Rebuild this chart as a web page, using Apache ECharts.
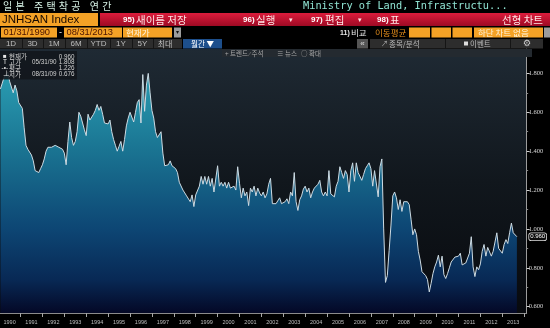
<!DOCTYPE html>
<html><head><meta charset="utf-8">
<script src="https://cdn.jsdelivr.net/npm/echarts@6.0.0/dist/echarts.min.js"></script>
<style>html,body{margin:0;padding:0;background:#000;overflow:hidden}#c{width:550px;height:328px}</style>
</head><body><div id="c"></div>
<script>
// ---- data (monthly, Jan 1990 .. Aug 2013), millions of units, annualized ----
const firstYear = 1990;
const starts = [
 1.72,1.75,1.78,1.79,1.808,1.76,1.76,1.70,1.74,1.71,1.65,1.64,   // 1990
 1.62,1.52,1.43,1.41,1.41,1.38,1.35,1.30,1.29,1.29,1.31,1.33,    // 1991
 1.36,1.40,1.42,1.41,1.42,1.41,1.43,1.44,1.42,1.42,1.41,1.39,    // 1992
 1.33,1.45,1.55,1.47,1.43,1.45,1.50,1.60,1.58,1.545,1.51,1.48,   // 1993
 1.59,1.56,1.56,1.59,1.61,1.64,1.61,1.63,1.59,1.545,1.55,1.54,   // 1994
 1.56,1.50,1.46,1.43,1.40,1.425,1.45,1.40,1.46,1.53,1.57,1.60,   // 1995
 1.59,1.55,1.60,1.65,1.665,1.545,1.794,1.605,1.74,1.80,1.70,1.61,// 1996
 1.57,1.50,1.47,1.47,1.50,1.39,1.325,1.32,1.33,1.35,1.325,1.32,  // 1997
 1.31,1.29,1.24,1.23,1.20,1.185,1.17,1.16,1.14,1.175,1.115,1.175,// 1998
 1.185,1.22,1.27,1.23,1.27,1.23,1.27,1.22,1.26,1.19,1.20,1.325,  // 1999
 1.22,1.24,1.22,1.24,1.21,1.24,1.21,1.21,1.22,1.20,1.32,1.235,   // 2000
 1.16,1.21,1.17,1.19,1.12,1.21,1.19,1.22,1.17,1.21,1.185,1.17,   // 2001
 1.19,1.16,1.18,1.23,1.26,1.13,1.12,1.13,1.13,1.16,1.13,1.12,    // 2002
 1.14,1.155,1.13,1.19,1.17,1.29,1.14,1.095,1.15,1.17,1.205,1.22, // 2003
 1.19,1.21,1.16,1.19,1.21,1.20,1.23,1.25,1.19,1.17,1.19,1.17,    // 2004
 1.30,1.18,1.175,1.165,1.22,1.245,1.32,1.29,1.26,1.30,1.28,1.19, // 2005
 1.30,1.34,1.245,1.34,1.29,1.30,1.25,1.28,1.31,1.325,1.34,1.31,  // 2006
 1.22,1.30,1.30,1.165,1.32,1.36,1.00,0.725,0.76,0.89,1.02,1.17,  // 2007
 1.19,1.16,1.10,1.15,1.09,1.14,1.145,1.14,1.125,1.05,0.97,1.00,  // 2008
 0.97,0.885,0.84,0.78,0.77,0.76,0.74,0.676,0.72,0.77,0.805,0.83, // 2009
 0.865,0.805,0.86,0.765,0.745,0.77,0.80,0.83,0.84,0.855,0.865,0.86, // 2010
 0.875,0.815,0.805,0.825,0.825,0.875,0.96,0.805,0.755,0.805,0.79,0.82, // 2011
 0.885,0.92,0.86,0.905,0.90,0.86,0.885,0.89,0.98,0.90,0.89,0.875, // 2012
 0.92,0.945,0.925,0.98,1.03,0.98,0.98,0.96                         // 2013 (Jan-Aug)
];
const yearLabels = ['1990','1991','1992','1993','1994','1995','1996','1997','1998','1999','2000','2001','2002','2003','2004','2005','2006','2007','2008','2009','2010','2011','2012','2013'];
const yTickValues = [0.6,0.8,1.0,1.2,1.4,1.6,1.8];
const yMinorValues = [0.7,0.9,1.1,1.3,1.5,1.7,1.9];
// legend statistics as printed
const statNames = ['현재가','고가','평균','저가'];
const statDates = ['','05/31/90','','08/31/09'];
const statValues = ['0.960','1.808','1.226','0.676'];
const currentValue = 0.960;

// axis ranges (visible window)
const X_MIN = 1990.063, X_MAX = 2014.114;
const Y_MIN = 0.5676, Y_MAX = 1.9255;

const seriesData = starts.map((v, i) => [firstYear + (i + 1) / 12, v]);
const yearBounds = yearLabels.slice(1).map(y => +y).concat([2014]);
const yearMids = yearLabels.map(y => +y + 0.5);

// ---- header / toolbar graphics ----
const G = [];
const KR = '"Noto Sans CJK KR"';
const SANS = '"Liberation Sans","Noto Sans CJK KR"';
function rect(x, y, w, h, fill, z) { G.push({type:'rect', shape:{x, y, width:w, height:h}, style:{fill}, z: z || 50, silent:true}); }
function text(x, y, t, color, size, o) {
  o = o || {};
  G.push({type:'text', x, y, z: o.z || 60, silent:true,
    style:{text:t, fill:color, font:(o.bold ? 'bold ' : '') + size + 'px ' + (o.font || SANS),
      textAlign:o.align || 'left', align:o.align || 'left', textVerticalAlign:'middle', verticalAlign:'middle'}});
}
// row 1: title
const title = '일본 주택착공 연간';
let cell = 0;
for (const ch of title) {
  if (ch === ' ') { cell += 1; continue; }
  text(3 + cell * 6.2, 6, ch, '#d6f0e4', 10, {font: KR});
  cell += 2;
}
text(303, 6, 'Ministry of Land, Infrastructu...', '#8fe3d2', 10.3, {font:'"DejaVu Sans Mono",monospace'});
// row 2
rect(0, 13, 98, 13, '#f4a226');
text(2, 19.6, 'JNHSAN Index', '#1a0a00', 11.5);
G.push({type:'rect', shape:{x:100, y:13, width:450, height:13}, silent:true, z:50,
  style:{fill:new echarts.graphic.LinearGradient(0,0,0,1,[{offset:0,color:'#dc1c3c'},{offset:1,color:'#9e0a24'}])}});
text(123, 19.6, '95)', '#ffffff', 8, {bold:true}); text(136, 19.6, '새이름 저장', '#ffe6e6', 10.5, {font:KR});
text(243, 19.6, '96)', '#ffffff', 8, {bold:true}); text(256, 19.6, '실행', '#ffe6e6', 10.5, {font:KR}); text(289, 19.8, '▾', '#ffe6e6', 7);
text(311, 19.6, '97)', '#ffffff', 8, {bold:true}); text(325, 19.6, '편집', '#ffe6e6', 10.5, {font:KR}); text(358, 19.8, '▾', '#ffe6e6', 7);
text(377, 19.6, '98)', '#ffffff', 8, {bold:true}); text(390, 19.6, '표', '#ffe6e6', 10.5, {font:KR});
text(543, 19.6, '선형 차트', '#ffe6e6', 10.5, {font:KR, align:'right'});
// row 3
rect(1, 27.5, 56, 10, '#f4a226'); text(3.5, 32.6, '01/31/1990', '#4a1200', 9.3);
text(59, 32.4, '-', '#ffffff', 9);
rect(64, 27.5, 58, 10, '#f4a226'); text(66.5, 32.6, '08/31/2013', '#4a1200', 9.3);
rect(123, 27.5, 49, 10, '#f4a226'); text(126, 32.6, '현재가', '#fff4dc', 8.5, {font:KR});
rect(174, 27.5, 7, 10, '#9c9c9c'); text(177.5, 32.6, '▾', '#111', 6, {align:'center'});
text(340, 32.6, '11)', '#e6e6e6', 7, {bold:true}); text(351, 32.6, '비교', '#e6e6e6', 8.5, {font:KR});
text(375, 32.6, '이동평균', '#e8901c', 8.5, {font:KR});
rect(409, 27.5, 21, 10, '#f4a226'); rect(431.5, 27.5, 19.5, 10, '#f4a226'); rect(452.5, 27.5, 19.5, 10, '#f4a226');
rect(474, 27.5, 69, 10, '#f4a226'); text(478, 32.6, '하단 차트 없음', '#fff4dc', 8.5, {font:KR});
rect(544, 27.5, 6, 10, '#9c9c9c');
// row 4
rect(0, 39, 182, 9.5, '#2d2d2d');
const btns = ['1D','3D','1M','6M','YTD','1Y','5Y','최대'];
const btnEdges = [0,22,43,65,87,110,132,153,177];
btns.forEach((b, i) => {
  const cx = (btnEdges[i] + btnEdges[i + 1]) / 2;
  text(cx, 43.9, b, '#bdbdbd', 8, {align:'center', font: i === 7 ? KR : SANS});
  if (i > 0) rect(btnEdges[i], 39, 1, 9.5, '#151515', 55);
});
rect(183, 39, 39, 9.5, '#1d4f8c'); text(202.5, 43.9, '월간 ▼', '#ffffff', 7.5, {align:'center', font:KR});
rect(357, 39, 11, 9.5, '#555555'); text(362.5, 43.6, '«', '#dddddd', 8, {align:'center'});
rect(370, 39, 173, 9.5, '#2d2d2d');
rect(445, 39, 1, 9.5, '#151515', 55); rect(510, 39, 1, 9.5, '#151515', 55);
text(381, 43.9, '↗', '#bbbbbb', 7); text(389, 43.9, '종목/분석', '#bdbdbd', 7.5, {font:KR});
rect(464, 41.5, 4, 4, '#dddddd', 56); text(470, 43.9, '이벤트', '#bdbdbd', 7.5, {font:KR});
text(527, 43.9, '⚙', '#cfcfcf', 9, {align:'center', font:'"DejaVu Sans"'});
// row 5 strip
rect(222, 49, 310, 8, '#242a30', 70);
text(225, 53.2, '+ 트렌드', '#a8a8a8', 6.5, {font:KR, z:75});
text(249, 53.2, '⁄ 주석', '#a8a8a8', 6.5, {font:KR, z:75});
text(277, 53.2, '≡ 뉴스', '#a8a8a8', 6.5, {font:KR, z:75});
text(301, 53.2, '○ 확대', '#a8a8a8', 6.5, {font:KR, z:75});
// legend box
rect(0, 51, 77, 28.5, 'rgba(18,22,27,0.88)', 80);
const rowsY = [56.8, 62.6, 68.4, 74.2];
rowsY.forEach((y, i) => {
  const icon = ['■','T','-•-','⊥'][i];
  text(i === 2 ? 1.5 : 3, y, icon, '#e6e6e6', i === 0 ? 6 : 6.5, {z:85});
  text(9, y, statNames[i], '#cfcfcf', 6.5, {font:KR, z:85});
  if (statDates[i]) text(32, y, statDates[i], '#cfcfcf', 6.3, {z:85});
  text(74.5, y, statValues[i], '#cfcfcf', 6.3, {align:'right', z:85});
});

const chart = echarts.init(document.getElementById('c'), null, {renderer:'canvas', width:550, height:328});
chart.setOption({
  backgroundColor:'#000000',
  animation:false,
  grid:{left:0, right:18, top:49, bottom:15, show:true, borderWidth:0,
    backgroundColor:new echarts.graphic.LinearGradient(0,0,0,1,[
      {offset:0,color:'#1f2a34'},{offset:0.5,color:'#11171d'},{offset:1,color:'#080a0e'}])},
  xAxis:{type:'value', min:X_MIN, max:X_MAX,
    axisLine:{show:true, onZero:false, lineStyle:{color:'#8c8c8c', width:1}},
    axisTick:{show:true, customValues:yearBounds, length:4, lineStyle:{color:'#a8a8a8'}},
    axisLabel:{customValues:yearMids, formatter:v => String(Math.floor(v)), color:'#bdbdbd', fontSize:5.5, margin:6, fontFamily:'Liberation Sans'},
    splitLine:{show:false}},
  yAxis:[
    {type:'value', position:'right', min:Y_MIN, max:Y_MAX,
      axisLine:{show:true, lineStyle:{color:'#9c9c9c', width:1}},
      axisTick:{show:true, customValues:yTickValues, length:3, lineStyle:{color:'#d0d0d0'}},
      axisLabel:{customValues:yTickValues, formatter:v => v.toFixed(3), color:'#d8d8d8', fontSize:6.5, margin:2, fontFamily:'Liberation Serif'},
      splitLine:{show:false}},
    {type:'value', position:'right', min:Y_MIN, max:Y_MAX,
      axisLine:{show:false},
      axisTick:{show:true, customValues:yMinorValues, length:1.5, lineStyle:{color:'#888'}},
      axisLabel:{show:false}, splitLine:{show:false}},
    {type:'value', position:'right', min:Y_MIN, max:Y_MAX,
      axisLine:{show:false}, axisTick:{show:false},
      axisLabel:{customValues:[currentValue], formatter:v => v.toFixed(3), color:'#ffffff', fontSize:6, margin:2.5,
        fontFamily:'Liberation Sans', backgroundColor:'#0c0c0c', borderColor:'#e0e0e0', borderWidth:0.8, borderRadius:2, padding:[1,1,0,1]},
      splitLine:{show:false}}
  ],
  series:[{
    type:'line', data:seriesData, showSymbol:false, z:3,
    lineStyle:{color:'#cddbe3', width:1},
    areaStyle:{color:new echarts.graphic.LinearGradient(0,73,0,313,[
      {offset:0,color:'#2a9db2'},{offset:0.32,color:'#1a7492'},{offset:0.65,color:'#0d4674'},
      {offset:0.86,color:'#082955'},{offset:1,color:'#040826'}], true), opacity:1}
  }],
  graphic:G
});
</script>
</body></html>
